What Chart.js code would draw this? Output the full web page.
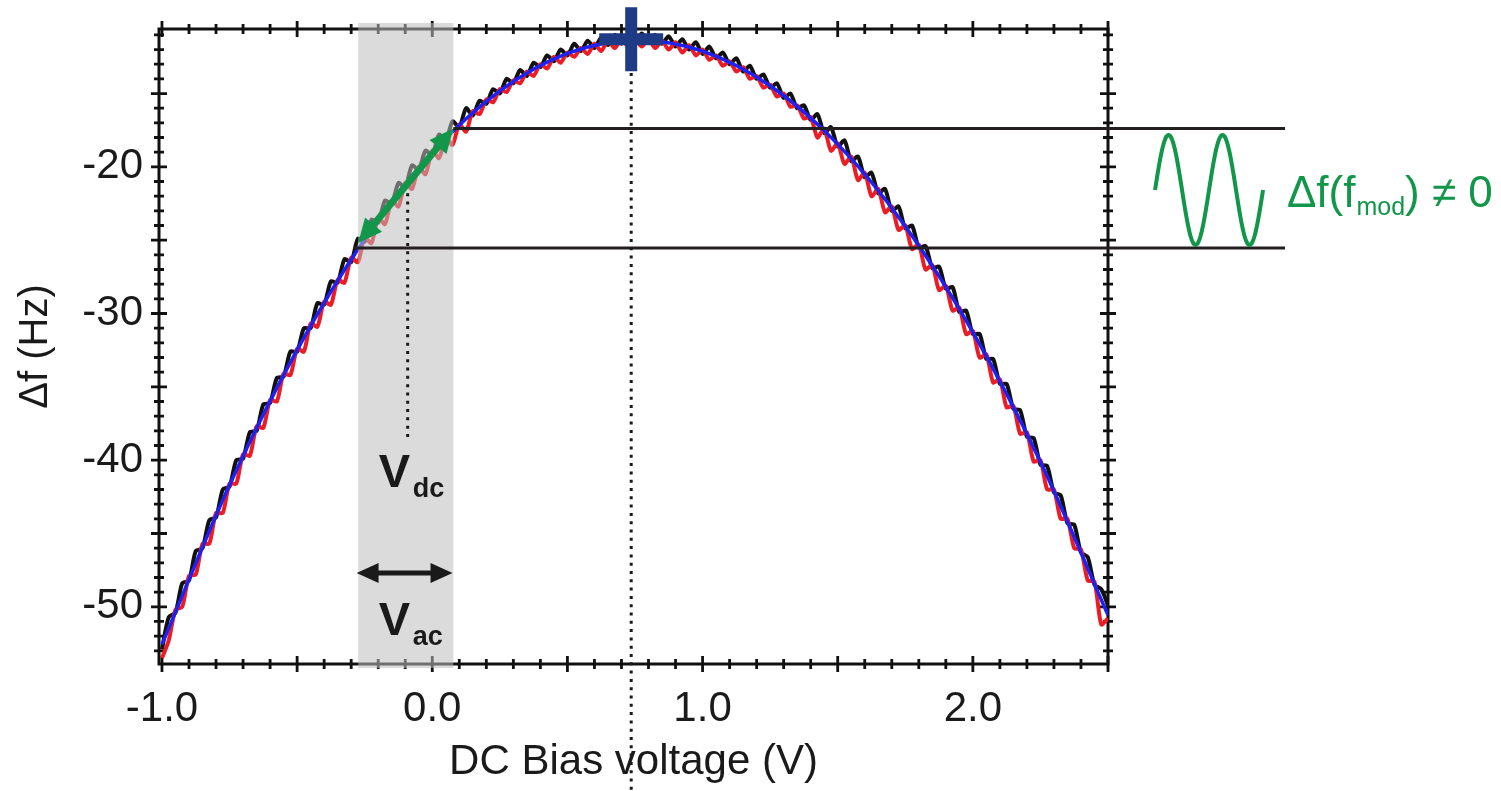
<!DOCTYPE html>
<html>
<head>
<meta charset="utf-8">
<script src="https://cdn.jsdelivr.net/npm/chart.js@4.4.1/dist/chart.umd.min.js"></script>
<style>
  html, body { margin: 0; padding: 0; background: #fff; }
</style>
</head>
<body>
<canvas id="biasChart" width="1501" height="791"></canvas>
<script>
// ── Data ───────────────────────────────────────────────────────────────────
const biasV = [
  -1, -0.975, -0.95, -0.925, -0.9, -0.875, -0.85, -0.825, -0.8, -0.775,
  -0.75, -0.725, -0.7, -0.675, -0.65, -0.625, -0.6, -0.575, -0.55, -0.525,
  -0.5, -0.475, -0.45, -0.425, -0.4, -0.375, -0.35, -0.325, -0.3, -0.275,
  -0.25, -0.225, -0.2, -0.175, -0.15, -0.125, -0.1, -0.075, -0.05, -0.025,
  0, 0.025, 0.05, 0.075, 0.1, 0.125, 0.15, 0.175, 0.2, 0.225,
  0.25, 0.275, 0.3, 0.325, 0.35, 0.375, 0.4, 0.425, 0.45, 0.475,
  0.5, 0.525, 0.55, 0.575, 0.6, 0.625, 0.65, 0.675, 0.7, 0.725,
  0.75, 0.775, 0.8, 0.825, 0.85, 0.875, 0.9, 0.925, 0.95, 0.975,
  1, 1.025, 1.05, 1.075, 1.1, 1.125, 1.15, 1.175, 1.2, 1.225,
  1.25, 1.275, 1.3, 1.325, 1.35, 1.375, 1.4, 1.425, 1.45, 1.475,
  1.5, 1.525, 1.55, 1.575, 1.6, 1.625, 1.65, 1.675, 1.7, 1.725,
  1.75, 1.775, 1.8, 1.825, 1.85, 1.875, 1.9, 1.925, 1.95, 1.975,
  2, 2.025, 2.05, 2.075, 2.1, 2.125, 2.15, 2.175, 2.2, 2.225,
  2.25, 2.275, 2.3, 2.325, 2.35, 2.375, 2.4, 2.425, 2.45, 2.475,
  2.5
];

const dfBlack = [
  -52.9, -50.7, -50.4, -48.4, -48.2, -46.2, -46.0, -44.1, -43.9, -42.0,
  -41.8, -40.0, -39.9, -38.1, -38.0, -36.2, -36.1, -34.4, -34.3, -32.6,
  -32.6, -31.0, -31.0, -29.3, -29.4, -27.8, -27.9, -26.3, -26.5, -24.9,
  -25.1, -23.6, -23.8, -22.3, -22.5, -21.1, -21.4, -19.9, -20.2, -18.9,
  -19.2, -17.8, -18.2, -16.9, -17.3, -16.0, -16.5, -15.5, -15.7, -14.7,
  -15.0, -14.0, -14.3, -13.4, -13.8, -12.9, -13.2, -12.4, -12.8, -12.0,
  -12.4, -11.6, -12.1, -11.4, -11.9, -11.2, -11.7, -11.0, -11.6, -10.9,
  -11.5, -10.9, -11.5, -11.0, -11.6, -11.1, -11.8, -11.3, -12.0, -11.5,
  -12.3, -11.8, -12.6, -12.2, -13.0, -12.6, -13.5, -13.1, -14.0, -13.7,
  -14.6, -14.3, -15.3, -15.0, -16.0, -15.8, -16.8, -16.4, -17.7, -17.3,
  -18.6, -18.2, -19.6, -19.3, -20.7, -20.4, -21.8, -21.5, -23.0, -22.7,
  -24.2, -24.0, -25.5, -25.4, -26.9, -26.8, -28.3, -28.2, -29.9, -29.8,
  -31.4, -31.4, -33.1, -33.1, -34.8, -34.8, -36.5, -36.6, -38.4, -38.5,
  -40.3, -40.4, -42.2, -42.4, -44.3, -44.4, -46.3, -46.6, -48.5, -48.8,
  -49.9
];

const dfRed = [
  -53.5, -52.3, -50.2, -50.0, -47.9, -47.8, -45.7, -45.7, -43.6, -43.6,
  -41.6, -41.6, -39.6, -39.7, -37.7, -37.8, -35.9, -36.0, -34.1, -34.2,
  -32.4, -32.6, -30.7, -30.9, -29.2, -29.4, -27.7, -27.9, -26.2, -26.5,
  -24.8, -25.2, -23.5, -23.9, -22.3, -22.7, -21.1, -21.5, -20.0, -20.5,
  -18.9, -19.4, -18.0, -18.5, -17.1, -17.6, -16.2, -16.4, -15.4, -15.6,
  -14.7, -14.9, -14.1, -14.3, -13.5, -13.8, -13.0, -13.3, -12.5, -12.9,
  -12.2, -12.5, -11.9, -12.3, -11.6, -12.1, -11.4, -11.9, -11.3, -11.8,
  -11.3, -11.8, -11.3, -11.9, -11.4, -12.0, -11.5, -12.2, -11.7, -12.4,
  -12.0, -12.7, -12.4, -13.1, -12.8, -13.5, -13.2, -14.0, -13.8, -14.6,
  -14.4, -15.2, -15.0, -15.9, -15.8, -16.7, -16.6, -18.0, -17.4, -18.9,
  -18.4, -19.8, -19.3, -20.9, -20.4, -22.0, -21.5, -23.1, -22.7, -24.3,
  -24.0, -25.6, -25.3, -27.0, -26.7, -28.4, -28.1, -29.8, -29.6, -31.4,
  -31.2, -33.0, -32.8, -34.7, -34.5, -36.4, -36.3, -38.2, -38.1, -40.1,
  -40.0, -42.0, -42.0, -44.0, -44.0, -46.0, -46.1, -48.2, -48.3, -51.2,
  -50.8
];

// parabolic fit (blue)
const fitV  = [-1.0, -0.75, -0.5, -0.25, 0, 0.25, 0.5, 0.76, 1.0, 1.25, 1.5, 1.75, 2.0, 2.25, 2.5];
const fitDf = [-52.56, -41.69, -32.48, -24.93, -19.04, -14.82, -12.26, -11.36, -12.11, -14.47, -18.45, -24.05, -31.27, -40.11, -50.57];

// maximum (cross marker)
const peakV = [0.736];
const peakDf = [-11.3];

const xTickValues = [-1, 0, 1, 2];
const yTickValues = [-50, -40, -30, -20];

// ── Annotation anchors (in axis units) ───────────────────────────────────────
const bandV = [-0.274, 0.078];
const bandDf = [-10.19, -54.17];
const levelLines = [
  { df: -17.38, fromV: 0.078, toV: 3.155 },
  { df: -25.54, fromV: -0.29, toV: 3.155 }
];
const peakLine = { v: 0.736, fromDf: -13.6, toDf: -62.6 };
const vdcLine = { v: -0.091, fromDf: -21.8, toDf: -38.5 };
const greenArrow = { from: [-0.274, -25.2], to: [0.078, -17.38] };
const acArrow = { df: -47.7, fromV: -0.28, toV: 0.075 };
const vdcLabel = { v: -0.198, df: -41.83 };
const vacLabel = { v: -0.198, df: -51.92 };
const waveAnchor = { v: 2.674, df: -21.58 };
const modLabel = { v: 3.162, df: -22.74 };

const FONT = "'Liberation Sans', Arial, sans-serif";
const GREEN = '#11964a';

// ── Helpers ──────────────────────────────────────────────────────────────────
function toPoints(xs, ys) {
  return xs.map((v, i) => ({ x: v, y: ys[i] }));
}

function arrowHead(ctx, x1, y1, x2, y2, len, half) {
  const a = Math.atan2(y2 - y1, x2 - x1);
  const bx = x2 - len * Math.cos(a), by = y2 - len * Math.sin(a);
  ctx.beginPath();
  ctx.moveTo(x2, y2);
  ctx.lineTo(bx + half * Math.sin(a), by - half * Math.cos(a));
  ctx.lineTo(bx - half * Math.sin(a), by + half * Math.cos(a));
  ctx.closePath();
  ctx.fill();
}

function doubleArrow(ctx, x1, y1, x2, y2, width, len, half, color) {
  const a = Math.atan2(y2 - y1, x2 - x1);
  ctx.strokeStyle = color; ctx.fillStyle = color; ctx.lineWidth = width;
  ctx.beginPath();
  ctx.moveTo(x1 + (len - 2) * Math.cos(a), y1 + (len - 2) * Math.sin(a));
  ctx.lineTo(x2 - (len - 2) * Math.cos(a), y2 - (len - 2) * Math.sin(a));
  ctx.stroke();
  arrowHead(ctx, x1, y1, x2, y2, len, half);
  arrowHead(ctx, x2, y2, x1, y1, len, half);
}

// ── Frame with ticks crossing every side ─────────────────────────────────────
const frameTicks = {
  id: 'frameTicks',
  beforeDatasetsDraw(chart) {
    const { ctx, chartArea: a, scales: { x, y } } = chart;
    ctx.save();
    ctx.strokeStyle = '#111';
    ctx.lineWidth = 3;
    ctx.strokeRect(a.left, a.top, a.right - a.left, a.bottom - a.top);
    ctx.lineWidth = 2.8;
    ctx.beginPath();
    for (let i = -10; i <= 25; i++) {
      const px = x.getPixelForValue(i / 10);
      const len = i % 5 === 0 ? 8 : 5;
      ctx.moveTo(px, a.bottom - len); ctx.lineTo(px, a.bottom + len);
      ctx.moveTo(px, a.top - len); ctx.lineTo(px, a.top + len);
    }
    for (let v = -53; v <= -11; v++) {
      const py = y.getPixelForValue(v);
      const len = v % 5 === 0 ? 8 : 5;
      ctx.moveTo(a.left - len, py); ctx.lineTo(a.left + len, py);
      ctx.moveTo(a.right - len, py); ctx.lineTo(a.right + len, py);
    }
    ctx.stroke();
    ctx.restore();
  }
};

// ── Band, guide lines, arrows and labels ─────────────────────────────────────
const overlay = {
  id: 'overlay',
  afterDatasetsDraw(chart) {
    const { ctx, scales: { x, y } } = chart;
    ctx.save();

    // V_ac window
    const bx0 = x.getPixelForValue(bandV[0]), bx1 = x.getPixelForValue(bandV[1]);
    const by0 = y.getPixelForValue(bandDf[0]), by1 = y.getPixelForValue(bandDf[1]);
    ctx.fillStyle = 'rgba(190,190,190,0.55)';
    ctx.fillRect(bx0, by0, bx1 - bx0, by1 - by0);

    // response levels
    ctx.strokeStyle = '#231f20';
    ctx.lineWidth = 3;
    levelLines.forEach(l => {
      const py = y.getPixelForValue(l.df);
      ctx.beginPath();
      ctx.moveTo(x.getPixelForValue(l.fromV), py);
      ctx.lineTo(x.getPixelForValue(l.toV), py);
      ctx.stroke();
    });

    // dotted guides
    ctx.setLineDash([3, 5.3]);
    ctx.strokeStyle = '#1a1a1a';
    ctx.lineWidth = 3;
    [peakLine, vdcLine].forEach(d => {
      const px = x.getPixelForValue(d.v);
      ctx.beginPath();
      ctx.moveTo(px, y.getPixelForValue(d.fromDf));
      ctx.lineTo(px, y.getPixelForValue(d.toDf));
      ctx.stroke();
    });
    ctx.setLineDash([]);

    // arrows
    doubleArrow(ctx,
      x.getPixelForValue(greenArrow.from[0]), y.getPixelForValue(greenArrow.from[1]),
      x.getPixelForValue(greenArrow.to[0]), y.getPixelForValue(greenArrow.to[1]),
      7, 24, 11, GREEN);
    const ay = y.getPixelForValue(acArrow.df);
    doubleArrow(ctx,
      x.getPixelForValue(acArrow.fromV), ay,
      x.getPixelForValue(acArrow.toV), ay,
      5, 22, 10, '#1a1a1a');

    // V_dc / V_ac labels
    ctx.fillStyle = '#1a1a1a';
    ctx.textBaseline = 'alphabetic';
    ctx.textAlign = 'left';
    [[vdcLabel, 'dc'], [vacLabel, 'ac']].forEach(([p, sub]) => {
      const px = x.getPixelForValue(p.v), py = y.getPixelForValue(p.df);
      ctx.font = `bold 47px ${FONT}`;
      ctx.fillText('V', px, py);
      ctx.font = `bold 27px ${FONT}`;
      ctx.fillText(sub, px + 34, py + 10);
    });

    // modulation sketch and label
    const wx = x.getPixelForValue(waveAnchor.v), wy = y.getPixelForValue(waveAnchor.df);
    ctx.strokeStyle = GREEN;
    ctx.lineWidth = 4;
    ctx.beginPath();
    for (let t = 0; t <= 216; t++) {
      const px = wx + t * 0.5;
      const py = wy - 55 * Math.sin(2 * Math.PI * t / 108);
      if (t === 0) ctx.moveTo(px, py); else ctx.lineTo(px, py);
    }
    ctx.stroke();

    const tx = x.getPixelForValue(modLabel.v), ty = y.getPixelForValue(modLabel.df);
    ctx.fillStyle = GREEN;
    ctx.font = `44px ${FONT}`;
    ctx.fillText('\u0394f(f', tx, ty);
    let cx = tx + ctx.measureText('\u0394f(f').width + 1;
    ctx.font = `25px ${FONT}`;
    ctx.fillText('mod', cx, ty + 8);
    cx += ctx.measureText('mod').width;
    ctx.font = `44px ${FONT}`;
    ctx.fillText(') \u2260 0', cx, ty);

    ctx.restore();
  }
};

// ── Chart ────────────────────────────────────────────────────────────────────
const ctx = document.getElementById('biasChart');
new Chart(ctx, {
  type: 'scatter',
  data: {
    datasets: [
      {
        label: 'maximum',
        data: toPoints(peakV, peakDf),
        pointStyle: 'cross', pointRadius: 32, pointBorderWidth: 12,
        borderColor: '#1f3b85', backgroundColor: '#1f3b85',
        showLine: false, clip: false, order: 1
      },
      {
        label: 'fit',
        data: toPoints(fitV, fitDf),
        showLine: true, borderColor: '#1d22f2', borderWidth: 3.5,
        pointRadius: 0, cubicInterpolationMode: 'monotone', order: 2
      },
      {
        label: 'sweep back',
        data: toPoints(biasV, dfRed),
        showLine: true, borderColor: '#ec1c24', borderWidth: 4,
        pointRadius: 0, tension: 0.25, order: 3
      },
      {
        label: 'sweep forward',
        data: toPoints(biasV, dfBlack),
        showLine: true, borderColor: '#111111', borderWidth: 4,
        pointRadius: 0, tension: 0.25, order: 4
      }
    ]
  },
  options: {
    responsive: false,
    animation: false,
    events: [],
    layout: { autoPadding: false, padding: { left: 0, top: 29, right: 393, bottom: 0 } },
    plugins: { legend: { display: false }, tooltip: { enabled: false } },
    scales: {
      x: {
        type: 'linear', min: -1.011, max: 2.5,
        grid: { display: false, drawTicks: false },
        border: { display: false },
        afterBuildTicks: s => { s.ticks = xTickValues.map(v => ({ value: v })); },
        afterFit: s => { s.height = 127; s.paddingLeft = 0; s.paddingRight = 0; },
        ticks: {
          color: '#1a1a1a', padding: 20, maxRotation: 0,
          font: { family: FONT, size: 42 },
          callback: v => v.toFixed(1)
        },
        title: {
          display: true, text: 'DC Bias voltage (V)', color: '#1a1a1a',
          font: { family: FONT, size: 42 }, padding: { top: 0, bottom: 3 }
        }
      },
      y: {
        type: 'linear', min: -53.9, max: -10.6,
        grid: { display: false, drawTicks: false },
        border: { display: false },
        afterBuildTicks: s => { s.ticks = yTickValues.map(v => ({ value: v })); },
        afterFit: s => { s.width = 159; s.paddingTop = 0; s.paddingBottom = 0; },
        ticks: {
          color: '#1a1a1a', padding: 16,
          font: { family: FONT, size: 42 },
          callback: v => String(v)
        },
        title: {
          display: true, text: '\u0394f (Hz)', color: '#1a1a1a',
          font: { family: FONT, size: 40 }, padding: { top: 12, bottom: 0 }
        }
      }
    }
  },
  plugins: [frameTicks, overlay]
});
</script>
</body>
</html>
